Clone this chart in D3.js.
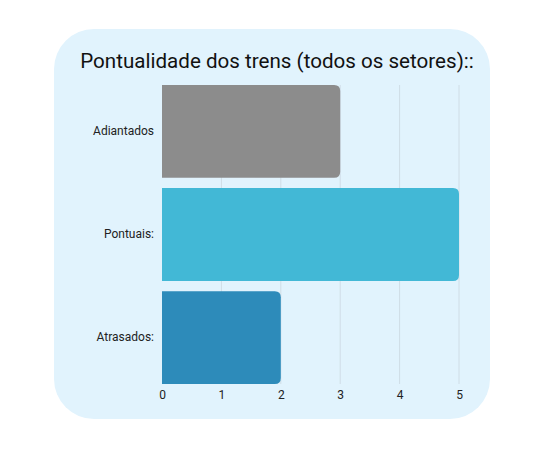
<!DOCTYPE html>
<html><head><meta charset="utf-8">
<script src="https://cdn.jsdelivr.net/npm/d3@7"></script>
<style>body{margin:0;background:#fff;font-family:Roboto,sans-serif;}</style>
</head><body><svg id="c" width="552" height="452"></svg>
<script>
const categories = ["Adiantados", "Pontuais:", "Atrasados:"];
const values = [3, 5, 2];
const colors = ["#8c8c8c", "#42b8d6", "#2d8bba"];
const xTicks = [0, 1, 2, 3, 4, 5];
const title = "Pontualidade dos trens (todos os setores)::";

const svg = d3.select("#c");
svg.append("rect").attr("x", 54).attr("y", 29).attr("width", 436).attr("height", 390)
  .attr("rx", 40).attr("fill", "#e1f3fd");

svg.append("text").attr("x", 277).attr("y", 68).attr("text-anchor", "middle")
  .attr("font-size", 20.6).attr("fill", "#111").text(title);

const x = d3.scaleLinear().domain([0, 5]).range([162, 459]);
const y = d3.scaleBand().domain(categories).range([85, 384]).paddingInner(0.1).paddingOuter(0);

svg.append("g").selectAll("line").data(xTicks.slice(1)).join("line")
  .attr("x1", d => x(d)).attr("x2", d => x(d)).attr("y1", 85).attr("y2", 384)
  .attr("stroke", "#cfdde6").attr("stroke-width", 1);

function barPath(x0, x1, y0, h, r) {
  return `M${x0},${y0}H${x1 - r}Q${x1},${y0} ${x1},${y0 + r}V${y0 + h - r}Q${x1},${y0 + h} ${x1 - r},${y0 + h}H${x0}Z`;
}
svg.append("g").selectAll("path").data(categories).join("path")
  .attr("d", (c, i) => barPath(x(0), x(values[i]), y(c), y.bandwidth(), 6))
  .attr("fill", (c, i) => colors[i]);

const xa = svg.append("g").attr("transform", "translate(0,384)")
  .call(d3.axisBottom(x).tickValues(xTicks).tickSize(0).tickPadding(6).tickFormat(d3.format("d")));
xa.select(".domain").remove();
xa.selectAll("text").attr("font-size", 12).attr("font-family", "Roboto").attr("fill", "#222");

const ya = svg.append("g").attr("transform", "translate(162,0)")
  .call(d3.axisLeft(y).tickSize(0).tickPadding(8));
ya.select(".domain").remove();
ya.selectAll("text").attr("font-size", 12).attr("font-family", "Roboto").attr("fill", "#222");
</script></body></html>
